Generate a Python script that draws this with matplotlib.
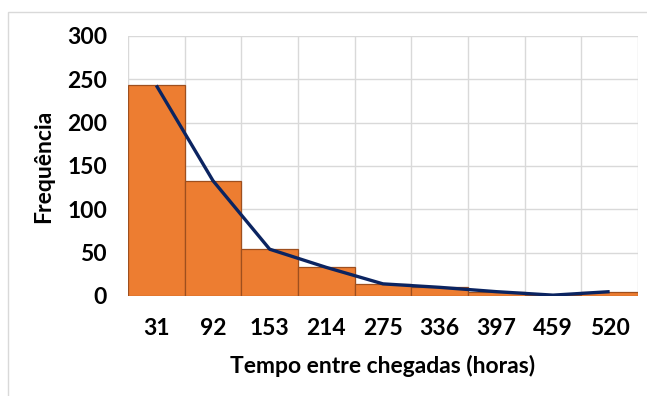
import matplotlib.pyplot as plt
from matplotlib.patches import Rectangle

# Data
categorias = ['31', '92', '153', '214', '275', '336', '397', '459', '520']
frequencia = [243, 133, 54, 33, 14, 10, 5, 1, 5]

plt.rcParams['font.family'] = ['Lato', 'DejaVu Sans']
plt.rcParams['font.weight'] = 'bold'

fig = plt.figure(figsize=(6.47, 3.96), dpi=100)
ax = fig.add_axes([128 / 647, 1 - 296 / 396, 510 / 647, 260 / 396])

# outer chart frame
fig.patches.append(Rectangle((8 / 647, -0.1), 1.2, 1.1 - 12 / 396, transform=fig.transFigure,
                             fill=False, edgecolor='#d9d9d9', linewidth=1.0))

x = list(range(len(categorias)))
ax.bar(x, frequencia, width=1.0, color='#ED7D31', edgecolor='#9E4F1E', linewidth=0.9, zorder=2)
ax.plot(x, frequencia, color='#0B2461', linewidth=2.4, solid_capstyle='butt', zorder=3)

ax.set_xlim(-0.5, len(categorias) - 0.5)
ax.set_ylim(0, 300)
ax.set_yticks(range(0, 301, 50))
ax.set_xticks(x)
ax.set_xticklabels(categorias)
ax.set_xticks([i - 0.5 for i in range(len(categorias) + 1)], minor=True)

ax.grid(False)
ax.yaxis.grid(True, color='#d9d9d9', linewidth=1.0, zorder=0)
ax.xaxis.grid(True, which='minor', color='#d9d9d9', linewidth=1.0, zorder=0)
ax.set_axisbelow(True)
for s in ax.spines.values():
    s.set_visible(False)

ax.tick_params(axis='both', which='both', length=0, labelsize=16.5)
ax.tick_params(axis='y', pad=15)
ax.tick_params(axis='x', pad=16)

ax.set_xlabel('Tempo entre chegadas (horas)', fontsize=16.5, fontweight='bold', labelpad=11)
ax.set_ylabel('Frequência', fontsize=16.5, fontweight='bold', labelpad=9)

fig.savefig('out.png', dpi=100)
